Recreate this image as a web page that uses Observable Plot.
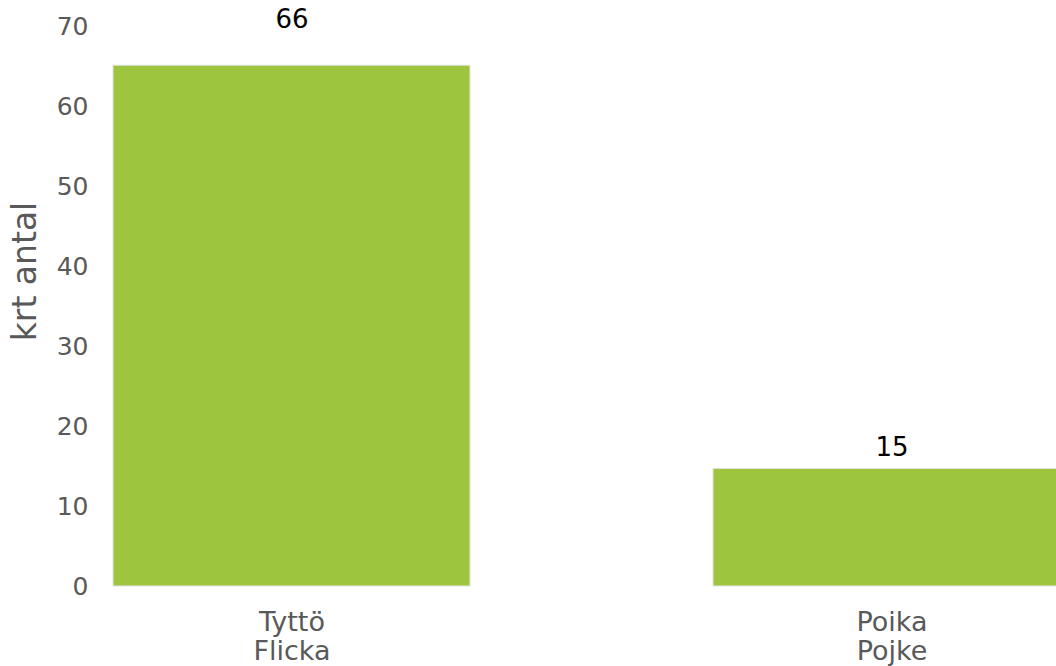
<!DOCTYPE html>
<html>
<head>
<meta charset="utf-8">
<script src="https://cdn.jsdelivr.net/npm/d3@7"></script>
<script src="https://cdn.jsdelivr.net/npm/@observablehq/plot@0.6"></script>
<style>
  html, body { margin: 0; padding: 0; background: white; overflow: hidden; }
  #chart { width: 1056px; height: 666px; }
</style>
</head>
<body>
<div id="chart"></div>
<script>
// Data
const categories = ["Tyttö", "Poika"];
const categoryLabels = ["Tyttö\nFlicka", "Poika\nPojke"];
const barValues = [65.1, 14.7];
const valueLabels = ["66", "15"];
const yTicks = [0, 10, 20, 30, 40, 50, 60, 70];
const yTitle = "krt antal";

const rows = categories.map((c, i) => ({
  category: c,
  value: barValues[i],
  label: valueLabels[i]
}));
const labelOf = new Map(categories.map((c, i) => [c, categoryLabels[i]]));

const chart = Plot.plot({
  width: 1056,
  height: 666,
  marginTop: 26,
  marginBottom: 80,
  marginLeft: 100,
  marginRight: 0,
  style: { fontFamily: "DejaVu Sans, sans-serif", color: "#595959", background: "white" },
  x: { domain: categories, range: [113, 1070], paddingInner: 0.405, paddingOuter: 0 },
  y: { domain: [0, 70] },
  marks: [
    Plot.barY(rows, { x: "category", y: "value", fill: "#9DC53D", stroke: "#e4e4e4", strokeWidth: 1 }),
    // labels above bars; the tall bar's label sits at the top of the frame, as in the reference
    Plot.text(rows, {
      x: "category",
      y: d => (d.value > 60 ? 70.9 : d.value + 2.6),
      text: "label",
      fill: "black",
      fontSize: 26,
      lineAnchor: "middle"
    }),
    Plot.axisY({ ticks: yTicks, tickSize: 0, tickPadding: 12, fontSize: 25, label: null }),
    Plot.axisX({ tickSize: 0, tickPadding: 23, fontSize: 27, lineHeight: 1.1, label: null, tickFormat: d => labelOf.get(d) }),
    Plot.text([yTitle], { frameAnchor: "left", rotate: -90, textAnchor: "middle", lineAnchor: "middle", dx: -75, dy: -35, fontSize: 33, fill: "#595959" })
  ]
});
document.getElementById("chart").append(chart);
</script>
</body>
</html>
